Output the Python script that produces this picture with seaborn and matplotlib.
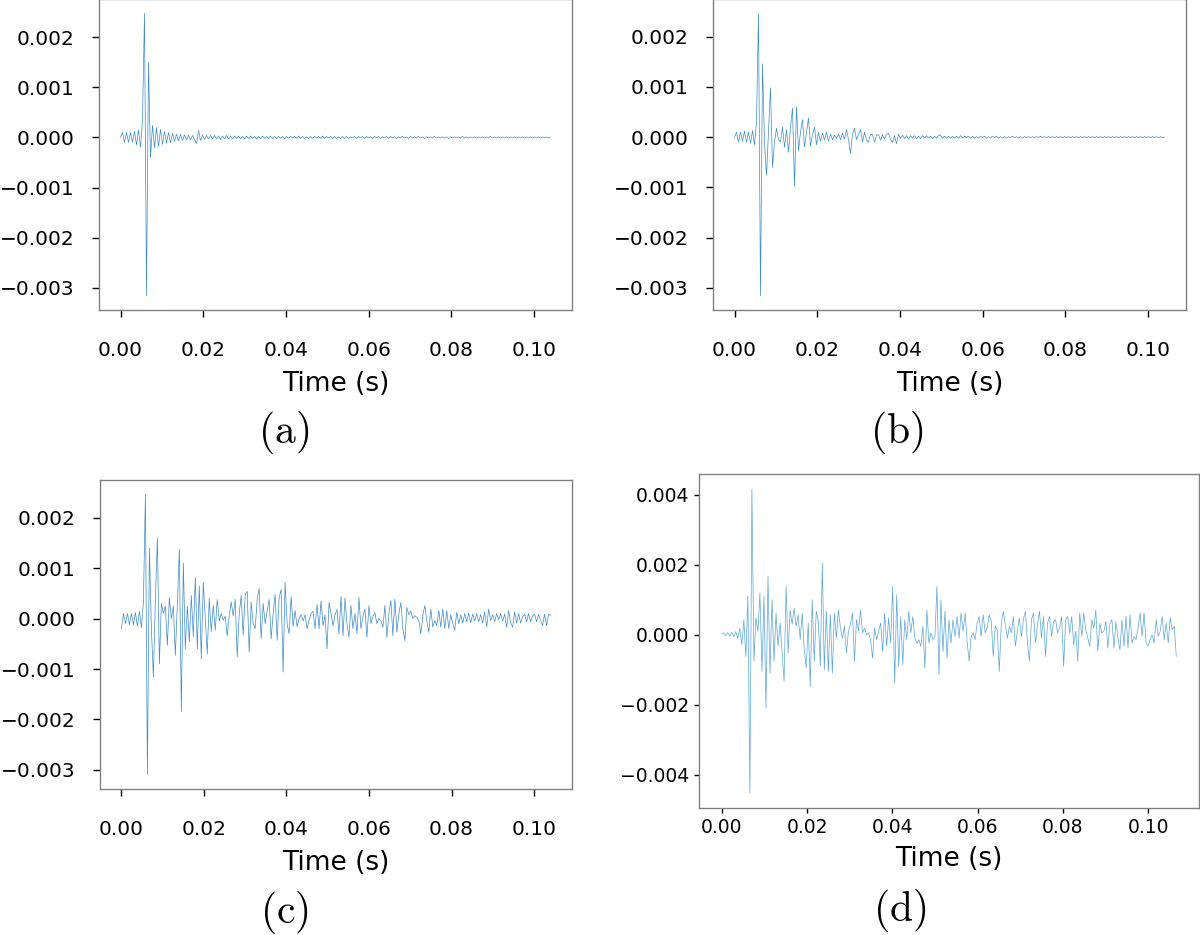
import matplotlib
matplotlib.use("Agg")
import matplotlib.pyplot as plt
from matplotlib.ticker import MultipleLocator
import numpy as np
import pandas as pd
import seaborn as sns

# amplitudes, in units of 1e-4
SCALE = 1e-4
DUR_ABC = 0.104
DUR_D = 0.1066

sig_a = [
    0, 1, -1, 1, -1, 1, -1, 1.2, -1.5, 1.5,
    -2, 3.4, 24.8, -31.6, 15, -4, 2.4, -2, 2, -1.8,
    1.6, -1.4, 1.2, -1.2, 1, -1, 0.8, -0.8, 0.7, -0.7,
    0.6, -0.6, 0.5, -0.5, 0.5, -0.5, 0.4, -0.4, -1.2, 1.4,
    -0.6, 0.5, -0.4, 0.4, -0.3, 0.4, -0.3, 0.4, -0.3, 0.3,
    -0.4, 0.3, -0.3, 0.4, -0.3, 0.3, -0.3, 0.3, -0.2, 0.3,
    -0.3, 0.2, -0.3, 0.3, -0.2, 0.3, -0.2, 0.2, -0.3, 0.2,
    -0.2, 0.3, -0.2, 0.2, -0.2, 0.3, -0.2, 0.2, -0.2, 0.2,
    -0.2, 0.2, -0.3, 0.2, -0.2, 0.2, -0.1, 0.2, -0.2, 0.3,
    -0.2, 0.2, -0.2, 0.1, -0.2, 0.2, -0.2, 0.2, -0.1, 0.2,
    -0.2, 0.3, -0.2, 0.2, -0.1, 0.2, -0.2, 0.2, -0.2, 0.1,
    -0.2, 0.2, -0.2, 0.2, -0.2, 0.1, -0.1, 0.2, -0.2, 0.2,
    -0.1, 0.2, -0.2, 0.2, -0.1, 0.1, -0.2, 0.2, -0.1, 0.2,
    -0.2, 0.1, -0.1, 0.2, -0.2, 0.2, -0.1, 0.1, -0.2, 0.1,
    -0.1, 0.2, -0.1, 0.1, -0.2, 0.2, -0.1, 0.1, -0.1, 0.2,
    -0.1, 0.1, -0.2, 0.1, -0.1, 0.1, -0.1, 0.2, -0.1, 0.1,
    -0.1, 0.1, -0.1, 0.1, -0.2, 0.1, -0.1, 0.1, -0.1, 0.1,
    -0.1, 0.2, -0.1, 0.1, -0.1, 0.1, -0.1, 0.1, -0.1, 0.1,
    -0.1, 0.1, -0.1, 0.1, -0.1, 0.2, -0.1, 0.1, -0.1, 0.1,
    -0.1, 0.1, -0.1, 0.1, -0.1, 0.1, -0.1, 0.1, -0.1, 0.1,
    -0.1, 0.1, -0.1, 0.1, -0.1, 0.1, -0.1, 0.1, -0.1, 0.1,
    -0.1, 0.1, -0.1, 0.1, -0.1, 0.0,
]

sig_b = [
    0, 1, -1, 1, -0.8, 1.2, -1, 1, -1.2, 1.3,
    -1.5, 3, 24.7, -31.6, 14.6, -1, -7.6, 1, 9.8, -6,
    -1, 1.8, -0.5, -1, 2, -2, 1.5, -3, 2, 5.8,
    -9.8, 6, -2.7, 1, 3.5, -2, 1, 3.8, -1.8, 0.5,
    2, -1.5, 1, -0.8, 0.8, -0.6, 1, -0.8, 0.6, -0.5,
    0.4, -0.3, 0.6, -0.5, 0.8, -0.4, 1.5, -0.5, -3.2, 0.5,
    1.8, -0.5, 0.5, 1.5, -1, 1, -0.6, -1, 0.6, 0.5,
    -1, 0.4, 0.5, -0.6, 0.5, -0.4, 0.6, 0.8, -0.5, -1,
    0.3, -1.3, 0.6, -0.3, 0.4, -0.3, 0.3, -0.4, 0.3, -0.2,
    0.3, -0.3, 0.2, -0.3, 0.3, -0.2, 0.3, -0.2, 0.2, -0.3,
    0.2, -0.2, 0.3, 0.5, -0.3, 0.2, -0.2, 0.2, -0.2, 0.2,
    -0.2, 0.2, -0.2, 0.3, -0.2, 0.2, -0.1, 0.2, -0.2, 0.2,
    -0.2, 0.1, -0.2, 0.2, -0.1, 0.2, -0.2, 0.1, -0.1, 0.2,
    -0.1, 0.2, -0.2, 0.1, -0.1, 0.1, -0.2, 0.1, -0.1, 0.2,
    -0.1, 0.1, -0.1, 0.1, -0.2, 0.1, -0.1, 0.1, -0.1, 0.1,
    -0.1, 0.1, -0.1, 0.2, -0.1, 0.1, -0.1, 0.1, -0.1, 0.1,
    -0.1, 0.1, -0.1, 0.1, -0.1, 0.1, -0.1, 0.1, -0.1, 0.1,
    -0.1, 0.1, -0.1, 0.1, -0.1, 0.1, -0.1, 0.1, -0.1, 0.1,
    -0.1, 0.1, -0.1, 0.1, -0.1, 0.1, -0.1, 0.1, -0.1, 0.1,
    -0.1, 0.1, -0.1, 0.1, -0.1, 0.1, -0.1, 0.1, -0.1, 0.1,
    -0.1, 0.1, -0.1, 0.1, -0.1, 0.1, -0.1, 0.1, -0.1, 0.1,
    -0.1, 0.1, -0.1, 0.1, -0.1, 0.0,
]

sig_c = [
    -2, 1, -1, 1, -1.2, 1, -1.2, 1.2, -1.5, 1.5,
    -1.8, 3.2, 24.7, -31, 14, -2, -11.6, 4, 16, -9,
    3, 1, 2.5, -5.3, 4.2, 0, 2.5, -7.3, 2.8, 13.8,
    -18.5, 11, -6, 2.5, -4.6, 4.6, -3.6, 8.2, -6, 6.5,
    -8, 7.2, 0, -7, 4, -2.6, 2.6, -2.3, 3.8, -0.5,
    1, -0.3, 0.5, -3.4, 0.5, 3.3, 0.5, 3.8, -7.6, 1,
    4.6, -3.3, 4.8, 5.4, -6.7, 3.3, -1, -2, 3.8, 6,
    -4, 3, -1, 1.5, 3.8, -4, 1, 4.8, -4.3, 4.1,
    5.8, -10.6, 7.2, -1, -3, 4.4, -1.6, 1.6, -1.6, 0,
    0.8, -0.5, 0.8, -2, -0.3, 1, 1.5, -2, 2.8, -2,
    3.5, -1.4, 0.7, -6, 3.2, 1, -1.4, 0.7, 1.8, -3,
    4.4, -3.4, 4.1, -1, -3.7, 2.6, -2, 1, -3, 4.2,
    -2, 0.5, 1.9, -3.7, 2.6, -1, 0.5, 1.2, -1, 0,
    -0.5, -1.7, 2.6, -3.7, 1, 3.6, -3.4, 3.9, -2.7, 1,
    3.2, -2, -4.4, 2.2, 0.8, 1.5, 0, 0.6, 0.2, -0.4,
    -3, 0.6, 2.6, -0.5, -2.7, 1.9, -1.7, -0.4, -1.4, 1.6,
    -1.7, 1.9, -2, 1.6, -2, 0.8, -1, -2.3, 1.3, -1,
    0.8, -0.9, 1, -0.6, 1.1, -0.8, 0.9, -0.5, 1, -0.6,
    0.8, -0.9, 1.3, -1.7, 1.9, -0.4, 0.8, -0.6, 1, -0.3,
    1, -0.5, 0.9, -1.7, 1.6, -0.8, -1.7, 1.3, -0.9, 1,
    -0.9, 0.4, 0.9, -0.7, 1, -0.6, 0.5, 0.9, -0.6, 0.8,
    -0.3, -1.4, 0.9, -1.4, 0.9, 0.6,
]

sig_d = [
    0.4, 0.5, -0.3, 0.6, -0.4, 0.7, -0.6, 0.9, -1, 1.8,
    -2.9, 4.3, -6.2, 11, -45.2, 41.6, -7.6, 4.8, 1, 11.9,
    -10.5, 11, -21, 16.7, -11, 10, -7.6, 6.2, -3.3, 3.3,
    -5.2, -13.3, 13.8, -5.2, 7.1, 3, 7.6, 2.4, 5.7, -1.4,
    6.2, -4, -9.5, 3.3, -14.8, 10, -7.6, 6.7, 4, -9,
    20.5, -10, 6.7, -10.5, 5.7, -11, 6.2, -1, 7.1, 2,
    -1, 2.4, -5.2, 1, 3, 6.2, -7.6, 4.3, 1, 7.1,
    0.5, 1.9, 0, 0.5, -1.4, -6.7, 1.9, -1.4, 1, 3.3,
    -4.8, 6.2, -3.3, 4.8, -2.4, 13.8, -13.8, 11.4, -9, 5.2,
    -8.6, 4.3, -1.4, 6.7, 0.5, 5.2, -1, -2.4, -1.4, -3.3,
    2.4, -9.5, 7.1, -2.4, 0.5, -1.4, -0.5, 13.8, -11.4, 10,
    -4.8, 6.7, -6.7, 4.3, -2.4, 4.3, -0.5, 5.2, -1, 6.2,
    1, 6.2, -2, -7.6, -0.5, 0.5, -1.4, 3.3, 5.2, -0.5,
    5.7, 0.5, 2, 5.7, 3.8, -6.2, 2.4, 1.4, -10.5, 3.3,
    6.7, 3, -1, 2.4, 0.5, 5.2, -3.3, 1, 4.8, -0.5,
    4.3, 6.7, -2.4, -7.6, 4.3, 6.2, -2.4, 3, 6.7, -1,
    5.2, -6.2, 3.3, 5.2, -0.5, 3.8, 4.3, 0.5, 2, 5.2,
    -9, 4.3, 5.2, 0.5, 5.2, -2.9, 1, -7.6, 6.2, -0.5,
    6.2, 1.4, -1, -3.3, 4.3, 1.9, 7.1, -4.8, 3.3, 0.5,
    1, 3.8, -3.8, 3.3, 4.3, -3.8, 3.8, -1, -4.3, 4.3,
    -3.3, 5.2, -3.8, 5.7, -2.4, -0.5, -1.4, 2, 6.2, -0.5,
    6.2, -2.4, -3.3, -1.4, 0, -2.4, 4.3, -0.5, 1, 5.2,
    -1.4, 3.3, -2.4, 4.8, 1.4, 2.4, -6.2,
]

captions = ["(a)", "(b)", "(c)", "(d)"]

W, H = 1200, 935


def px_rect(left, top, right, bottom):
    return [left / W, 1 - bottom / H, (right - left) / W, (bottom - top) / H]


def draw_panel(fig, rect, values, duration, ystep, caption, cap_xy, style):
    ax = fig.add_axes(rect)
    df = pd.DataFrame({
        "t": np.linspace(0, duration, len(values)),
        "v": np.asarray(values) * SCALE,
    })
    sns.lineplot(data=df, x="t", y="v", ax=ax, color=style["color"],
                 linewidth=0.5, estimator=None, sort=False)
    ax.set_xlabel("Time (s)", fontsize=19, labelpad=style["labelpad"], color="black")
    ax.set_ylabel("")
    ax.xaxis.set_major_locator(MultipleLocator(0.02))
    ax.yaxis.set_major_locator(MultipleLocator(ystep))
    ax.tick_params(axis="both", labelsize=style["size"], length=style["length"],
                   width=1.0, colors="black", direction="out")
    ax.tick_params(axis="x", pad=style["xpad"])
    ax.tick_params(axis="y", pad=style["ypad"])
    for sp in ax.spines.values():
        sp.set_visible(True)
        sp.set_color("#808080")
        sp.set_linewidth(1.0)
    ax.grid(False)
    fig.text(cap_xy[0] / W, 1 - cap_xy[1] / H, r"$\mathrm{" + caption + "}$",
             fontsize=30, ha="center", va="center", color="black")
    return ax


def main():
    sns.set_theme(style="ticks")
    plt.rcParams["font.family"] = ["DejaVu Sans"]
    plt.rcParams["mathtext.fontset"] = "cm"
    plt.rcParams["axes.unicode_minus"] = True

    big = {"size": 14.5, "length": 5, "xpad": 17, "ypad": 12.5, "labelpad": 8,
           "color": "#3d8cc6"}
    small = {"size": 13.5, "length": 3.5, "xpad": 4, "ypad": 3.5, "labelpad": 6,
             "color": "#5aa6d6"}

    fig = plt.figure(figsize=(12, 9.35), dpi=100)
    draw_panel(fig, px_rect(99, -1, 572, 310), sig_a, DUR_ABC, 0.001,
               captions[0], (284, 433), big)
    draw_panel(fig, px_rect(713, -1, 1186, 310), sig_b, DUR_ABC, 0.001,
               captions[1], (897, 433), big)
    draw_panel(fig, px_rect(100, 480, 572, 789), sig_c, DUR_ABC, 0.001,
               captions[2], (284, 913), big)
    draw_panel(fig, px_rect(699, 474, 1199, 808), sig_d, DUR_D, 0.002,
               captions[3], (900, 910), small)

    fig.savefig("out.png", dpi=100, facecolor="white")
    plt.close(fig)


if __name__ == "__main__":
    main()
